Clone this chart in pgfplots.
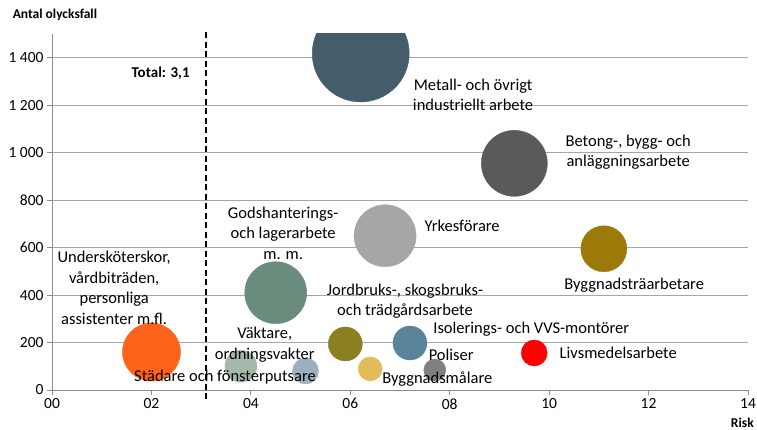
\documentclass[border=0pt]{standalone}
\usepackage{pgfplots}
\pgfplotsset{compat=1.18}
\usepackage{fontspec}
\setmainfont{Carlito}
\definecolor{gridgray}{HTML}{A6A6A6}
\definecolor{axisgray}{HTML}{8C8C8C}
\definecolor{cOrange}{HTML}{FF6319}
\definecolor{cVakt}{HTML}{A3B8A8}
\definecolor{cStad}{HTML}{9BB0BF}
\definecolor{cGods}{HTML}{6A8C7D}
\definecolor{cMetall}{HTML}{455D6B}
\definecolor{cYrke}{HTML}{A6A6A6}
\definecolor{cBetong}{HTML}{5A5A5A}
\definecolor{cTra}{HTML}{9C7A0A}
\definecolor{cJord}{HTML}{8B7F22}
\definecolor{cMalare}{HTML}{E3BC5A}
\definecolor{cIsol}{HTML}{5B8399}
\definecolor{cPolis}{HTML}{808080}
\definecolor{cLivs}{HTML}{FF0000}
\newcommand{\lbl}{\fontsize{16.5}{20.5}\selectfont}
\begin{document}
\begin{tikzpicture}
\useasboundingbox (-52pt,-40pt) rectangle (705pt,390pt);
\begin{axis}[
  at={(0pt,0pt)}, anchor=south west,
  scale only axis, width=696pt, height=356pt,
  xmin=0, xmax=14, ymin=0, ymax=1500,
  axis x line*=bottom, axis y line*=left,
  xtick={0,2,4,6,8,10,12,14},
  xticklabels={00,02,04,06,08,10,12,14},
  ytick={0,200,400,600,800,1000,1200,1400},
  yticklabels={0,200,400,600,800,1 000,1 200,1 400},
  ymajorgrids, grid style={draw=gridgray, line width=0.9pt},
  axis line style={draw=axisgray, line width=0.9pt},
  tick align=outside, major tick length=5pt,
  tick style={draw=axisgray, line width=0.9pt},
  tick label style={font=\fontsize{15.5}{17}\selectfont},
  clip=true, clip marker paths=true,
]
\addplot[only marks, mark=*, mark size=29pt, color=cOrange] coordinates {(2.0,160)};
\addplot[only marks, mark=*, mark size=16pt, color=cVakt] coordinates {(3.8,100)};
\addplot[only marks, mark=*, mark size=13pt, color=cStad] coordinates {(5.1,80)};
\addplot[only marks, mark=*, mark size=31pt, color=cGods] coordinates {(4.5,410)};
\addplot[only marks, mark=*, mark size=48.5pt, color=cMetall] coordinates {(6.21,1418)};
\addplot[only marks, mark=*, mark size=31pt, color=cYrke] coordinates {(6.7,650)};
\addplot[only marks, mark=*, mark size=33pt, color=cBetong] coordinates {(9.3,955)};
\addplot[only marks, mark=*, mark size=23pt, color=cTra] coordinates {(11.1,595)};
\addplot[only marks, mark=*, mark size=17pt, color=cJord] coordinates {(5.9,194)};
\addplot[only marks, mark=*, mark size=12pt, color=cMalare] coordinates {(6.4,89)};
\addplot[only marks, mark=*, mark size=17pt, color=cIsol] coordinates {(7.2,198)};
\addplot[only marks, mark=*, mark size=11pt, color=cPolis] coordinates {(7.7,84)};
\addplot[only marks, mark=*, mark size=13pt, color=cLivs] coordinates {(9.7,156)};
\coordinate (dtop) at (axis cs:3.1,1517);
\coordinate (dbot) at (axis cs:3.1,-38);
\coordinate (ylab) at (axis cs:-0.86,1580);
\coordinate (xlab) at (axis cs:14.12,-158);
\node[align=center, font=\lbl] at (axis cs:8.47,1243) {Metall- och övrigt\\industriellt arbete};
\node[align=center, font=\lbl] at (axis cs:11.59,1003) {Betong-, bygg- och\\anläggningsarbete};
\node[align=center, font=\lbl] at (axis cs:8.25,691) {Yrkesförare};
\node[align=center, font=\lbl] at (axis cs:4.65,662) {Godshanterings-\\och lagerarbete\\m. m.};
\node[align=center, font=\lbl] at (axis cs:11.71,442) {Byggnadsträarbetare};
\node[align=center, font=\lbl] at (axis cs:1.25,430) {Undersköterskor,\\vårdbiträden,\\personliga\\assistenter m.fl.};
\node[align=center, font=\lbl] at (axis cs:7.10,375) {Jordbruks-, skogsbruks-\\och trädgårdsarbete};
\node[align=center, font=\lbl] at (axis cs:9.64,257) {Isolerings- och VVS-montörer};
\node[align=center, font=\lbl] at (axis cs:8.03,147) {Poliser};
\node[align=center, font=\lbl] at (axis cs:11.39,156) {Livsmedelsarbete};
\node[align=center, font=\lbl] at (axis cs:7.75,46) {Byggnadsmålare};
\node[align=center, font=\lbl] at (axis cs:4.28,190) {Väktare,\\ordningsvakter};
\node[align=center, font=\lbl] at (axis cs:3.48,55) {Städare och fönsterputsare};
\node[anchor=east, font=\bfseries\fontsize{15}{17}\selectfont] at (axis cs:2.84,1336) {Total: 3,1};
\end{axis}
\draw[black, line width=2.3pt, dash pattern=on 6pt off 3.5pt] (dbot) -- (dtop);
\node[anchor=west, font=\bfseries\fontsize{13.5}{15}\selectfont] at (ylab) {Antal olycksfall};
\node[anchor=south east, inner sep=0pt, font=\bfseries\fontsize{13.5}{15}\selectfont] at (xlab) {Risk};
\end{tikzpicture}
\end{document}
